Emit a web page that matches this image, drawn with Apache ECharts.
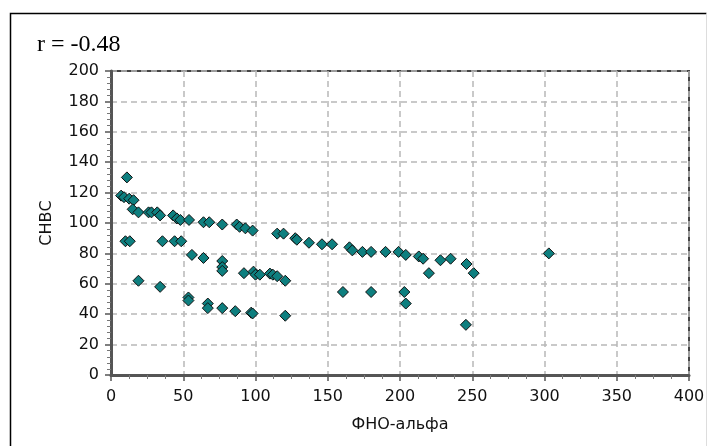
<!DOCTYPE html>
<html>
<head>
<meta charset="utf-8">
<script src="https://cdn.jsdelivr.net/npm/echarts@6/dist/echarts.min.js"></script>
<style>
html,body{margin:0;padding:0;background:#fff;}
#chart{width:710px;height:446px;}
</style>
</head>
<body>
<div id="chart"></div>
<script>
// Data (x = ФНО-альфа, y = СНВС)
var tnfAlpha = [11,7,9,12.6,15.6,15,19,26,28,32,34,43,45.6,48,54,64,68,77,87,89,93,98,115,119.4,127.5,128.6,137,146,153,165,167,174,180,190,199,204,213,216,228,235,246,251,220,303,
  10,13,35.6,44,48.6,56,64,77,77,77,92,98.6,100,103,110,112,115,120.6,19,34,53.6,53.6,67,67,77,86,97,98,120.6,160.5,180,203,204,245.6];
var snvs = [130,118,117,116,115,109,107,107,107,107,105,105,103,102,102,100.5,100.5,99,99,97.5,96.5,95,93,93,90,89,87,86,86,84,82,81,81,81,81,79,78,76.5,75.5,76.5,73,67,67,80,
  88,88,88,88,88,79,77,75,71,68.5,67,68,66,66,66.7,66,65,62,62,58,51,49,47,44,44,42,41,40.5,39,54.6,54.6,54.6,47,33];
var xTicks = {min:0, max:400, interval:50};
var yTicks = {min:0, max:200, interval:20};
var titleText = 'r = -0.48';
var xName = 'ФНО-альфа';
var yName = 'СНВС';

var points = tnfAlpha.map(function(x,i){return [x, snvs[i]];});
var labelFont = {fontFamily:'DejaVu Sans', fontSize:16, color:'#111'};

var chart = echarts.init(document.getElementById('chart'), null, {renderer:'canvas'});
chart.setOption({
  animation:false,
  backgroundColor:'#fff',
  graphic:[
    {type:'polyline', shape:{points:[[10.5,446],[10.5,13.5],[706.5,13.5]]}, style:{stroke:'#000', lineWidth:1.5, fill:null}, silent:true},
    {type:'line', shape:{x1:706.5,y1:13.5,x2:706.5,y2:446}, style:{stroke:'#ddd', lineWidth:1}, silent:true},
    {type:'text', left:37, top:33, style:{text:titleText, font:'24px "Liberation Serif"', fill:'#000'}}
  ],
  grid:{left:111, right:21, top:71, bottom:71, show:true, borderColor:'#444', borderWidth:2, backgroundColor:'#fff'},
  xAxis:{
    type:'value', min:xTicks.min, max:xTicks.max, interval:xTicks.interval,
    name:xName, nameLocation:'middle', nameGap:42,
    nameTextStyle:labelFont,
    axisLine:{show:true, onZero:false, lineStyle:{color:'#555', width:3}},
    axisTick:{show:true, length:6, lineStyle:{color:'#555', width:1.5}},
    minorTick:{show:true, splitNumber:4, length:4, lineStyle:{color:'#777', width:1}},
    axisLabel:Object.assign({margin:14}, labelFont),
    splitLine:{show:true, lineStyle:{color:'#b8b8b8', width:1.5, type:[6,4]}}
  },
  yAxis:{
    type:'value', min:yTicks.min, max:yTicks.max, interval:yTicks.interval,
    name:yName, nameLocation:'middle', nameGap:56,
    nameTextStyle:labelFont,
    axisLine:{show:true, onZero:false, lineStyle:{color:'#555', width:3}},
    axisTick:{show:true, length:6, lineStyle:{color:'#555', width:1.5}},
    minorTick:{show:true, splitNumber:5, length:4, lineStyle:{color:'#777', width:1}},
    axisLabel:Object.assign({margin:12}, labelFont),
    splitLine:{show:true, lineStyle:{color:'#b8b8b8', width:1.5, type:[6,4]}}
  },
  series:[{
    type:'scatter',
    data:points,
    symbol:'diamond',
    symbolSize:11,
    itemStyle:{color:'#0e7f7f', borderColor:'#111', borderWidth:1, opacity:1}
  }]
});
</script>
</body>
</html>
